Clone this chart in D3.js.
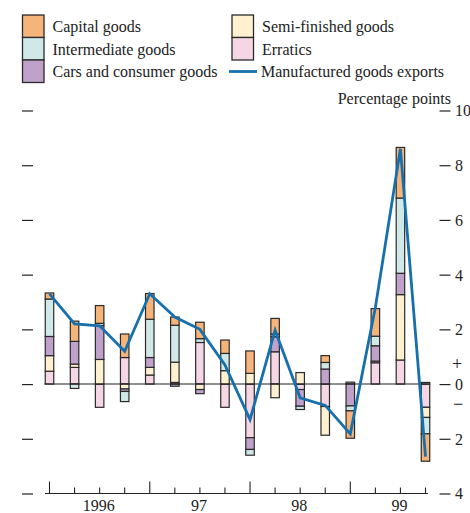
<!DOCTYPE html>
<html>
<head>
<meta charset="utf-8">
<script src="https://cdn.jsdelivr.net/npm/d3@7"></script>
<style>
  html, body { margin: 0; padding: 0; background: #fff; }
  svg { display: block; }
  text { font-family: "Liberation Serif", "Times New Roman", serif; fill: #222; }
</style>
</head>
<body>
<svg id="chart" width="470" height="513"></svg>
<script>
// ---- Data ----
const quarters = ["1996 Q1","1996 Q2","1996 Q3","1996 Q4",
                  "1997 Q1","1997 Q2","1997 Q3","1997 Q4",
                  "1998 Q1","1998 Q2","1998 Q3","1998 Q4",
                  "1999 Q1","1999 Q2","1999 Q3","1999 Q4"];
const yearLabels = ["1996", "97", "98", "99"];
const yTickValues = [-4, -2, 0, 2, 4, 6, 8, 10];

const erratics     = [0.47, 0.61, -0.85, 0.97, 0.33, 0.06, 1.52, -0.85, -1.96, 1.18, -0.20, -0.82, 0.07, 0.78, 0.88, -0.85];
const semiFinished = [0.57, 0.12, 0.90, -0.18, 0.28, 0.74, -0.20, 0.49, 0.39, -0.50, 0.42, -1.05, 0.00, 0.06, 2.39, -0.37];
const carsConsumer = [0.70, 0.83, 1.24, -0.09, 0.36, -0.08, -0.15, 0.00, -0.43, 0.55, -0.61, 0.55, -0.80, 0.56, 0.78, 0.06];
const intermediate = [1.37, -0.16, 0.08, -0.37, 1.40, 1.35, 0.14, 0.63, -0.21, 0.10, -0.12, 0.24, -0.18, 0.35, 2.75, -0.60];
const capital      = [0.22, 0.74, 0.65, 0.86, 0.94, 0.30, 0.60, 0.49, 0.82, 0.57, 0.00, 0.25, -1.00, 1.01, 1.85, -1.00];
const manufactured = [3.30, 2.20, 2.13, 1.20, 3.30, 2.45, 2.00, 0.70, -1.30, 1.97, -0.50, -0.78, -1.82, 2.80, 8.60, -2.65];

const seriesKeys   = ["erratics", "semi", "cars", "intermediate", "capital"];
const seriesNames  = {capital: "Capital goods", intermediate: "Intermediate goods", cars: "Cars and consumer goods",
                      semi: "Semi-finished goods", erratics: "Erratics"};
const seriesColors = {capital: "#f5b47a", intermediate: "#d0e8e8", cars: "#bfa1c9", semi: "#fff1d0", erratics: "#f5d6e4"};
const lineColor = "#1570ad";

const rows = quarters.map((q, i) => ({
  q, i,
  erratics: erratics[i], semi: semiFinished[i], cars: carsConsumer[i],
  intermediate: intermediate[i], capital: capital[i]
}));

// ---- Scales ----
const svg = d3.select("#chart");
const x = d3.scaleLinear().domain([0, 15]).range([49.5, 425.5]);
const y = d3.scaleLinear().domain([-4, 10]).range([493.5, 110.5]);
const barW = 8.5;
const FS = "16px";

// ---- Stacked bars ----
const stack = d3.stack().keys(seriesKeys).offset(d3.stackOffsetDiverging);
const layers = stack(rows);

const gBars = svg.append("g");
layers.forEach(layer => {
  gBars.selectAll(null)
    .data(layer.filter(d => Math.abs(d[1] - d[0]) > 1e-9))
    .join("rect")
    .attr("x", d => x(d.data.i) - barW / 2)
    .attr("y", d => y(Math.max(d[0], d[1])))
    .attr("width", barW)
    .attr("height", d => Math.abs(y(d[0]) - y(d[1])))
    .attr("fill", seriesColors[layer.key])
    .attr("stroke", "#2a2a2a")
    .attr("stroke-width", 1.2);
});

// zero line
svg.append("line")
  .attr("x1", x(0) - 5).attr("x2", x(15) + 3)
  .attr("y1", y(0)).attr("y2", y(0))
  .attr("stroke", "#222").attr("stroke-width", 1.1);

// ---- Line ----
const line = d3.line().x((d, i) => x(i)).y(d => y(d));
svg.append("path")
  .datum(manufactured)
  .attr("d", line)
  .attr("fill", "none")
  .attr("stroke", lineColor)
  .attr("stroke-width", 2.8)
  .attr("stroke-linejoin", "miter");

// ---- Y axes (left dashes, right dashes + labels) ----
const leftAxis = d3.axisLeft(y).tickValues(yTickValues).tickSize(0).tickFormat("");
const gl = svg.append("g").attr("transform", "translate(27.5,0)");
gl.call(leftAxis);
gl.select(".domain").remove();
gl.selectAll(".tick").append("line")
  .attr("x1", -5.5).attr("x2", 5.5).attr("stroke", "#222").attr("stroke-width", 1.2);

const rightAxis = d3.axisRight(y).tickValues(yTickValues).tickSize(0)
  .tickFormat(d => String(Math.abs(d)));
const gr = svg.append("g").attr("transform", "translate(445,0)");
gr.call(rightAxis);
gr.select(".domain").remove();
gr.selectAll(".tick line").remove();
gr.selectAll(".tick").append("line")
  .attr("x1", -5.5).attr("x2", 5.5).attr("stroke", "#222").attr("stroke-width", 1.2);
gr.selectAll(".tick text")
  .attr("x", 10).attr("dy", "0.34em")
  .style("font-family", "Liberation Serif, serif").style("font-size", FS).attr("fill", "#222");

svg.append("text").attr("x", 457).attr("y", y(0.75)).attr("dy", "0.35em")
  .attr("text-anchor", "middle").style("font-size", "18px").text("+");
svg.append("text").attr("x", 458).attr("y", y(-0.7)).attr("dy", "0.35em")
  .attr("text-anchor", "middle").style("font-size", "18px").text("\u2212");

svg.append("text").attr("x", 451).attr("y", 104)
  .attr("text-anchor", "end").style("font-size", FS).text("Percentage points");

// ---- X axis ----
const gx = svg.append("g").attr("transform", `translate(0,${y(-4)})`);
gx.append("line").attr("x1", 45).attr("x2", 428).attr("y1", 0).attr("y2", 0)
  .attr("stroke", "#222").attr("stroke-width", 1.1);
gx.selectAll(".qtick").data(quarters).join("line")
  .attr("class", "qtick")
  .attr("x1", (d, i) => x(i)).attr("x2", (d, i) => x(i))
  .attr("y1", 0).attr("y2", (d, i) => i % 4 === 0 ? -12 : -6)
  .attr("stroke", "#222").attr("stroke-width", 1.1);
gx.selectAll(".ylab").data(yearLabels).join("text")
  .attr("class", "ylab")
  .attr("x", (d, i) => x(i * 4 + 2) - 1)
  .attr("y", 17)
  .attr("text-anchor", "middle")
  .style("font-size", FS)
  .text(d => d);

// ---- Legend ----
const legendLeft = [
  {key: "capital", col: 0, row: 0},
  {key: "intermediate", col: 0, row: 1},
  {key: "cars", col: 0, row: 2},
  {key: "semi", col: 1, row: 0},
  {key: "erratics", col: 1, row: 1}
];
const colX = [22.5, 232];
const rowY = [15, 37.5, 60];
const gLeg = svg.append("g");
legendLeft.forEach(l => {
  gLeg.append("rect")
    .attr("x", colX[l.col]).attr("y", rowY[l.row])
    .attr("width", 21.5).attr("height", 22.5)
    .attr("fill", seriesColors[l.key])
    .attr("stroke", "#2a2a2a").attr("stroke-width", 1.3);
  gLeg.append("text")
    .attr("x", colX[l.col] + 30).attr("y", rowY[l.row] + 11.5)
    .attr("dy", "0.35em").style("font-size", FS)
    .text(seriesNames[l.key]);
});
gLeg.append("line")
  .attr("x1", 229).attr("x2", 257).attr("y1", 71.5).attr("y2", 71.5)
  .attr("stroke", lineColor).attr("stroke-width", 2.8);
gLeg.append("text")
  .attr("x", 261).attr("y", 71.5).attr("dy", "0.35em").style("font-size", FS)
  .text("Manufactured goods exports");
</script>
</body>
</html>
